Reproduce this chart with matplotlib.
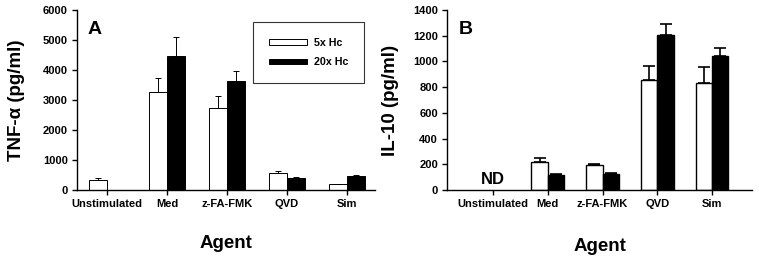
import matplotlib
matplotlib.use("Agg")
import matplotlib.pyplot as plt
import numpy as np

plt.rcParams['font.family'] = ['Liberation Sans', 'DejaVu Sans']
plt.rcParams['font.weight'] = 'bold'

categories = ["Unstimulated", "Med", "z-FA-FMK", "QVD", "Sim"]
series_names = ["5x Hc", "20x Hc"]

tnf_5x = [350, 3270, 2720, 570, 200]
tnf_5x_err = [50, 480, 420, 70, 15]
tnf_20x = [0, 4470, 3650, 400, 470]
tnf_20x_err = [0, 630, 330, 25, 30]

il10_5x = [0, 215, 195, 855, 835]
il10_5x_err = [0, 35, 5, 110, 125]
il10_20x = [0, 120, 128, 1205, 1045]
il10_20x_err = [0, 8, 5, 90, 60]

fig = plt.figure(figsize=(7.59, 2.62), dpi=100)
axA = fig.add_axes([0.1014, 0.2748, 0.3926, 0.687])
axB = fig.add_axes([0.589, 0.2748, 0.4018, 0.687])

x = np.arange(len(categories))
w = 0.3

def style(ax):
    ax.spines['top'].set_visible(False)
    ax.spines['right'].set_visible(False)
    ax.spines['left'].set_linewidth(1.0)
    ax.spines['bottom'].set_linewidth(1.0)
    ax.tick_params(axis='both', direction='out', length=3.5, width=1.0, labelsize=8, pad=3)
    for lab in ax.get_xticklabels() + ax.get_yticklabels():
        lab.set_fontweight('bold')

def bars(ax, vals, errs, offset, face, lw, ew, cap, label=None):
    v = np.array(vals, dtype=float)
    e = np.array(errs, dtype=float)
    m = v > 0
    ax.bar((x + offset)[m], v[m], w, color=face, edgecolor='black', linewidth=lw, label=label)
    me = e > 0
    ax.errorbar((x + offset)[me], v[me], yerr=[np.zeros(me.sum()), e[me]],
                fmt='none', ecolor='black', elinewidth=ew, capsize=cap, capthick=ew)

# Panel A
bars(axA, tnf_5x, tnf_5x_err, -w/2, 'white', 0.7, 0.7, 2.2, series_names[0])
bars(axA, tnf_20x, tnf_20x_err, w/2, 'black', 0.7, 0.7, 2.2, series_names[1])
axA.set_xlim(-0.5, 4.47)
axA.set_ylim(0, 6000)
axA.set_yticks(np.arange(0, 6001, 1000))
axA.set_xticks(x)
axA.set_xticklabels(categories)
style(axA)
axA.set_ylabel("TNF-α (pg/ml)", fontsize=13.5, fontweight='bold', labelpad=13)
axA.set_xlabel("Agent", fontsize=13.5, fontweight='bold', labelpad=19)
axA.text(0.035, 0.94, "A", transform=axA.transAxes, fontsize=14, fontweight='bold', va='top', ha='left')
leg = axA.legend(loc='upper left', bbox_to_anchor=(0.59, 0.935), fontsize=7.7, frameon=True, fancybox=False,
                 edgecolor='black', handlelength=3.6, handleheight=0.45, borderpad=1.5, labelspacing=0.9,
                 handletextpad=0.6, borderaxespad=0)
leg.get_frame().set_linewidth(0.8)
for t in leg.get_texts():
    t.set_fontweight('bold')

# Panel B
bars(axB, il10_5x, il10_5x_err, -w/2, 'white', 1.0, 1.2, 4.5)
bars(axB, il10_20x, il10_20x_err, w/2, 'black', 1.0, 1.2, 4.5)
axB.set_xlim(-0.84, 4.73)
axB.set_ylim(0, 1400)
axB.set_yticks(np.arange(0, 1401, 200))
axB.set_xticks(x)
axB.set_xticklabels(categories)
style(axB)
axB.set_ylabel("IL-10 (pg/ml)", fontsize=13.5, fontweight='bold', labelpad=10)
axB.set_xlabel("Agent", fontsize=13.5, fontweight='bold', labelpad=21)
axB.text(0.04, 0.94, "B", transform=axB.transAxes, fontsize=14, fontweight='bold', va='top', ha='left')
axB.text(0, 25, "ND", fontsize=12, fontweight='bold', ha='center', va='bottom')

fig.savefig("out.png", dpi=100)
